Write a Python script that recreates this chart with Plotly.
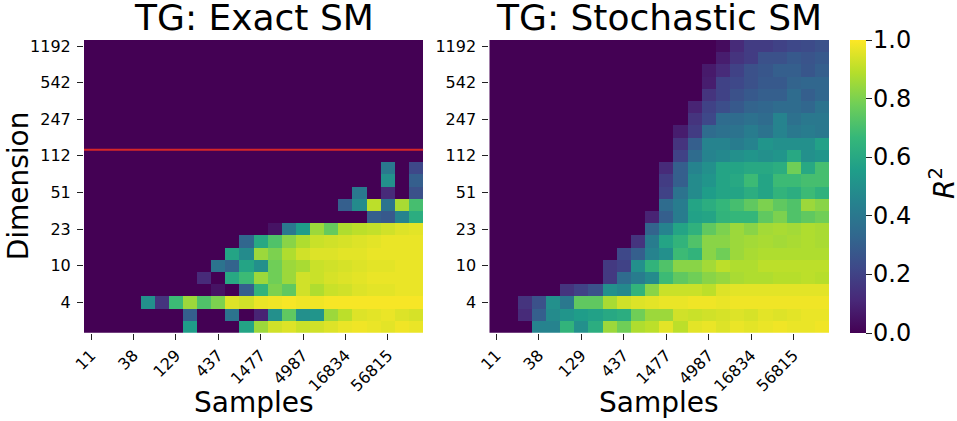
import plotly.graph_objects as go

W, H = 957, 421

sample_ticks = ["11", "38", "129", "437", "1477", "4987", "16834", "56815"]
dim_ticks = ["4", "10", "23", "51", "112", "247", "542", "1192"]
cbar_ticks = [0.0, 0.2, 0.4, 0.6, 0.8, 1.0]
n_cols = 24
n_rows = 24
threshold_row = 14.5  # boundary just above dimension 112

Z = [0.0] * 24

# Exact SM: rows from smallest dimension (bottom) upward, 24 sample bins each
exact_rows = [
    [0,0,0,0,0,0,0,.55,0,0,0,.58,.85,.93,.95,.92,.93,.95,.97,.98,.97,.96,.98,.97],
    [0,0,0,0,0,0,0,.30,0,0,.38,0,.10,.50,.75,.50,.52,.85,.90,.95,.96,.97,.95,.94],
    [0,0,0,0,.50,.15,.68,.85,.72,.80,.95,.93,.97,.98,.99,.98,.98,.99,.99,.99,.99,.99,.99,.99],
    [0,0,0,0,0,0,0,0,0,.05,0,.30,.65,.80,.75,.93,.88,.92,.93,.95,.96,.96,.97,.97],
    [0,0,0,0,0,0,0,0,.12,0,.60,.68,.85,.78,.85,.93,.92,.94,.95,.96,.97,.97,.97,.97],
    [0,0,0,0,0,0,0,0,0,.38,.32,.58,.50,.78,.85,.87,.92,.93,.94,.95,.96,.96,.97,.97],
    [0,0,0,0,0,0,0,0,0,0,.58,.48,.85,.80,.88,.93,.95,.95,.96,.96,.97,.97,.97,.97],
    [0,0,0,0,0,0,0,0,0,0,0,.33,.60,.72,.82,.88,.92,.93,.94,.95,.96,.97,.97,.97],
    [0,0,0,0,0,0,0,0,0,0,0,0,0,.05,.40,.55,.85,.76,.88,.90,.91,.93,.95,.96],
    [0,0,0,0,0,0,0,0,0,0,0,0,0,0,0,0,0,0,0,0,.30,.28,.45,.62],
    [0,0,0,0,0,0,0,0,0,0,0,0,0,0,0,0,0,0,.30,.48,.90,.38,.87,.70],
    [0,0,0,0,0,0,0,0,0,0,0,0,0,0,0,0,0,0,0,.40,0,.12,0,.25],
    [0,0,0,0,0,0,0,0,0,0,0,0,0,0,0,0,0,0,0,0,0,.50,0,.30],
    [0,0,0,0,0,0,0,0,0,0,0,0,0,0,0,0,0,0,0,0,0,.40,0,.22],
] + [list(Z) for _ in range(10)]

stoch_rows = [
    [0,0,0,.45,.45,.65,.50,.62,.85,.78,.88,.90,.96,.90,.96,.97,.95,.97,.96,.97,.98,.97,.97,.98],
    [0,0,.12,.30,.48,.52,.55,.57,.60,.62,.78,.85,.85,.93,.92,.93,.94,.95,.94,.96,.95,.96,.97,.97],
    [0,0,.15,.25,.50,.40,.75,.75,.87,.93,.95,.96,.97,.97,.98,.98,.97,.98,.98,.98,.98,.98,.98,.98],
    [0,0,0,0,0,.15,.20,.25,.50,.47,.65,.82,.92,.92,.92,.90,.95,.96,.96,.96,.96,.96,.96,.96],
    [0,0,0,0,0,0,0,0,.17,.35,.42,.48,.68,.75,.78,.82,.84,.87,.88,.88,.89,.89,.90,.89],
    [0,0,0,0,0,0,0,0,.17,.20,.50,.65,.72,.82,.82,.86,.90,.88,.88,.90,.90,.90,.90,.90],
    [0,0,0,0,0,0,0,0,0,.22,.30,.45,.50,.68,.65,.82,.78,.85,.87,.88,.88,.88,.88,.88],
    [0,0,0,0,0,0,0,0,0,0,.15,.42,.58,.65,.72,.82,.82,.85,.86,.87,.86,.87,.88,.87],
    [0,0,0,0,0,0,0,0,0,0,0,.32,.45,.58,.64,.75,.80,.85,.82,.86,.87,.86,.88,.87],
    [0,0,0,0,0,0,0,0,0,0,0,.10,.30,.42,.57,.58,.65,.66,.66,.75,.80,.72,.75,.78],
    [0,0,0,0,0,0,0,0,0,0,0,0,.35,.42,.58,.62,.66,.70,.75,.80,.75,.72,.85,.82],
    [0,0,0,0,0,0,0,0,0,0,0,0,.20,.38,.48,.55,.58,.58,.62,.58,.65,.62,.68,.64],
    [0,0,0,0,0,0,0,0,0,0,0,0,.18,.30,.48,.52,.58,.60,.68,.58,.68,.68,.70,.70],
    [0,0,0,0,0,0,0,0,0,0,0,0,.12,.30,.45,.50,.58,.58,.60,.60,.62,.78,.60,.70],
    [0,0,0,0,0,0,0,0,0,0,0,0,0,.20,.35,.45,.47,.50,.52,.50,.52,.60,.50,.52],
    [0,0,0,0,0,0,0,0,0,0,0,0,0,.15,.30,.45,.45,.42,.45,.52,.50,.50,.50,.57],
    [0,0,0,0,0,0,0,0,0,0,0,0,0,.08,.18,.35,.37,.38,.42,.38,.45,.40,.42,.40],
    [0,0,0,0,0,0,0,0,0,0,0,0,0,0,.15,.22,.35,.35,.37,.35,.45,.37,.40,.40],
    [0,0,0,0,0,0,0,0,0,0,0,0,0,0,.10,.20,.24,.28,.32,.33,.35,.35,.33,.38],
    [0,0,0,0,0,0,0,0,0,0,0,0,0,0,0,.15,.20,.25,.28,.30,.30,.35,.30,.33],
    [0,0,0,0,0,0,0,0,0,0,0,0,0,0,0,.08,.20,.22,.25,.28,.28,.32,.33,.33],
    [0,0,0,0,0,0,0,0,0,0,0,0,0,0,0,.07,.12,.20,.25,.27,.30,.30,.27,.30],
    [0,0,0,0,0,0,0,0,0,0,0,0,0,0,0,0,.08,.15,.18,.25,.25,.28,.26,.28],
    [0,0,0,0,0,0,0,0,0,0,0,0,0,0,0,0,.03,.12,.18,.18,.20,.22,.23,.25],
]

FONT = "DejaVu Sans"
xs = list(range(n_cols))
ys = list(range(n_rows))
xtickvals = list(range(0, n_cols, 3))
ytickvals = list(range(2, n_rows, 3))

def px_x(p):
    return p / W

def px_y(p):
    return 1 - p / H

PLOT_TOP, PLOT_BOT = 40, 332.7
left_dom = [px_x(84), px_x(423.3)]
right_dom = [px_x(489.3), px_x(829)]
y_dom = [px_y(PLOT_BOT), px_y(PLOT_TOP)]

fig = go.Figure()
fig.add_trace(go.Heatmap(z=exact_rows, x=xs, y=ys, coloraxis="coloraxis",
                         xaxis="x", yaxis="y", hoverongaps=False))
fig.add_trace(go.Heatmap(z=stoch_rows, x=xs, y=ys, coloraxis="coloraxis",
                         xaxis="x2", yaxis="y2", hoverongaps=False))

axis_common = dict(showgrid=False, zeroline=False, showline=False, automargin=False,
                   ticks="outside", ticklen=6, tickwidth=1.2, tickcolor="#222",
                   tickfont=dict(family=FONT, size=16, color="black"))

fig.update_layout(
    width=W, height=H,
    margin=dict(l=0, r=0, t=0, b=0, pad=0, autoexpand=False),
    paper_bgcolor="white", plot_bgcolor="white",
    font=dict(family=FONT, color="black"),
    showlegend=False,
    xaxis=dict(domain=left_dom, anchor="y", range=[-0.5, n_cols - 0.5],
               tickvals=xtickvals, ticktext=sample_ticks, tickangle=-45, **axis_common),
    yaxis=dict(domain=y_dom, anchor="x", range=[-0.5, n_rows - 0.5],
               tickvals=ytickvals, ticktext=dim_ticks, ticklabelstandoff=3, **axis_common),
    xaxis2=dict(domain=right_dom, anchor="y2", range=[-0.5, n_cols - 0.5],
                tickvals=xtickvals, ticktext=sample_ticks, tickangle=-45, **axis_common),
    yaxis2=dict(domain=y_dom, anchor="x2", range=[-0.5, n_rows - 0.5],
                tickvals=ytickvals, ticktext=dim_ticks, ticklabelstandoff=3, **axis_common),
    coloraxis=dict(
        colorscale="Viridis", cmin=0, cmax=1,
        colorbar=dict(
            x=px_x(850), xanchor="left", xpad=0,
            y=px_y(PLOT_TOP), yanchor="top", ypad=0,
            len=(PLOT_BOT - PLOT_TOP) / H, lenmode="fraction",
            thickness=16, thicknessmode="pixels",
            outlinewidth=0,
            ticks="outside", ticklen=6, tickwidth=1.2, tickcolor="#222",
            tickvals=cbar_ticks, showticklabels=False,
        ),
    ),
)

fig.add_shape(type="line", xref="x", yref="y",
              x0=-0.5, x1=n_cols - 0.5, y0=threshold_row, y1=threshold_row,
              line=dict(color="#d62728", width=2))

ann = []
ann.append(dict(text="TG: Exact SM", x=(left_dom[0] + left_dom[1]) / 2, y=px_y(PLOT_TOP),
                xref="paper", yref="paper", xanchor="center", yanchor="bottom",
                showarrow=False, font=dict(family=FONT, size=36, color="black")))
ann.append(dict(text="TG: Stochastic SM", x=(right_dom[0] + right_dom[1]) / 2, y=px_y(PLOT_TOP),
                xref="paper", yref="paper", xanchor="center", yanchor="bottom",
                showarrow=False, font=dict(family=FONT, size=36, color="black")))
for dom in (left_dom, right_dom):
    ann.append(dict(text="Samples", x=(dom[0] + dom[1]) / 2, y=px_y(421),
                    xref="paper", yref="paper", xanchor="center", yanchor="bottom",
                    showarrow=False, font=dict(family=FONT, size=28, color="black")))
ann.append(dict(text="Dimension", x=px_x(18), y=(y_dom[0] + y_dom[1]) / 2,
                xref="paper", yref="paper", xanchor="center", yanchor="middle",
                textangle=-90, showarrow=False,
                font=dict(family=FONT, size=28, color="black")))
ann.append(dict(text="<i>R</i><sup>2</sup>", x=px_x(942), y=px_y(183),
                xref="paper", yref="paper", xanchor="center", yanchor="middle",
                textangle=-90, showarrow=False,
                font=dict(family=FONT, size=28, color="black")))
for v in cbar_ticks:
    ann.append(dict(text=f"{v:.1f}", x=px_x(871),
                    y=px_y(PLOT_BOT - v * (PLOT_BOT - PLOT_TOP)),
                    xref="paper", yref="paper", xanchor="left", yanchor="middle",
                    showarrow=False, font=dict(family=FONT, size=24, color="black")))
fig.update_layout(annotations=ann)

fig.write_html("out.html")
